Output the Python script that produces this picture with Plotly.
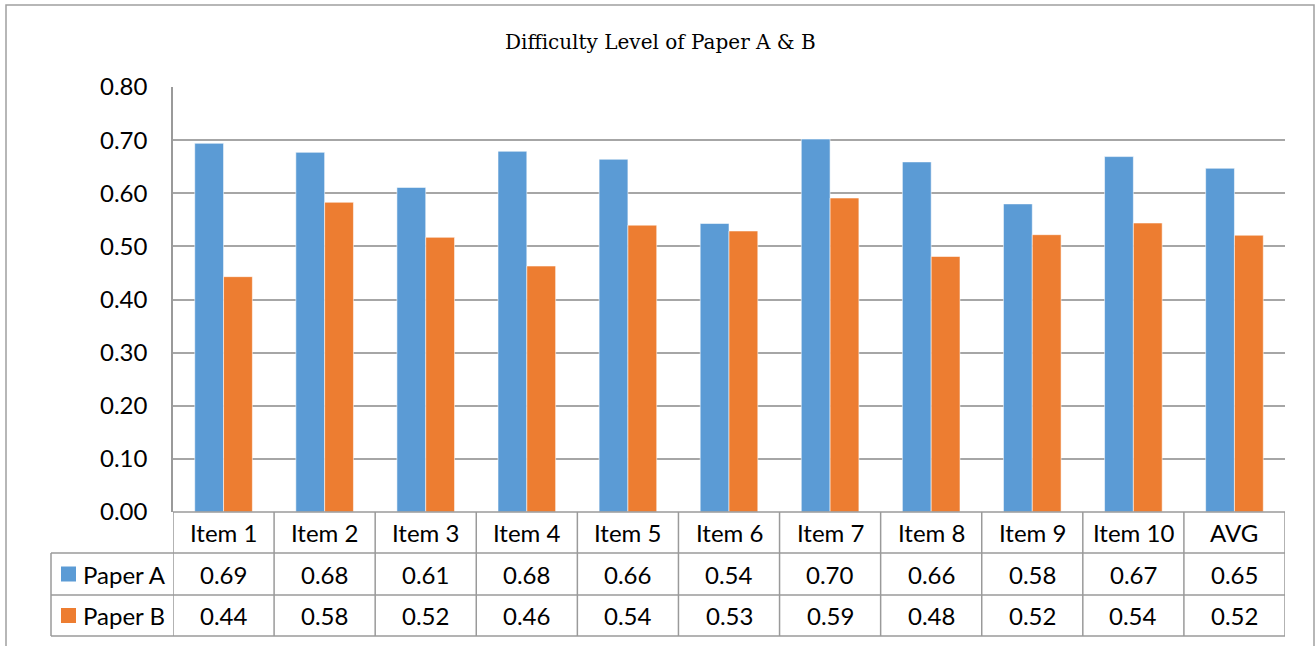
import plotly.graph_objects as go

# Difficulty index per item for the two papers
categories = ["Item 1", "Item 2", "Item 3", "Item 4", "Item 5", "Item 6",
              "Item 7", "Item 8", "Item 9", "Item 10", "AVG"]
paper_a = [0.694, 0.677, 0.611, 0.679, 0.664, 0.543, 0.702, 0.659, 0.580, 0.669, 0.647]
paper_b = [0.443, 0.583, 0.517, 0.463, 0.540, 0.529, 0.591, 0.481, 0.522, 0.544, 0.521]
series_names = ["Paper A", "Paper B"]
series_colors = ["#5B9BD5", "#ED7D31"]
y_ticks = [0.0, 0.1, 0.2, 0.3, 0.4, 0.5, 0.6, 0.7, 0.8]

W, H = 1316, 646


def px(x):
    return x / W


def py(y):
    return 1 - y / H


# pixel layout of the plot area and the data table beneath it
PLOT_L, PLOT_R, PLOT_T, PLOT_B = 173, 1285, 87, 512
ROW_EDGES = [512, 553, 595, 636]
LEGEND_L = 51
LINE = "#9a9a9a"
FONT = "Lato"
FSIZE = 24

fig = go.Figure()
for name, vals, color in zip(series_names, [paper_a, paper_b], series_colors):
    fig.add_trace(go.Bar(
        x=categories, y=vals, name=name,
        marker=dict(color=color, line=dict(color="rgba(255,255,255,0.55)", width=1)),
        showlegend=False,
    ))

shapes = []
annotations = []

# horizontal table rules
for i, yy in enumerate(ROW_EDGES):
    x0 = px(PLOT_L) if i == 0 else px(LEGEND_L)
    shapes.append(dict(type="line", xref="paper", yref="paper",
                       x0=x0, x1=px(PLOT_R), y0=py(yy), y1=py(yy),
                       line=dict(color=LINE, width=1.5)))
# vertical table rules at category boundaries
n = len(categories)
for k in range(n + 1):
    shapes.append(dict(type="line", xref="x", yref="paper",
                       x0=k - 0.5, x1=k - 0.5, y0=py(ROW_EDGES[0]), y1=py(ROW_EDGES[-1]),
                       line=dict(color=LINE, width=1.5)))
# left edge of the legend column
shapes.append(dict(type="line", xref="paper", yref="paper",
                   x0=px(LEGEND_L), x1=px(LEGEND_L), y0=py(ROW_EDGES[1]), y1=py(ROW_EDGES[-1]),
                   line=dict(color=LINE, width=1.5)))
# outer chart border
shapes.append(dict(type="rect", xref="paper", yref="paper",
                   x0=px(6), x1=px(1314), y0=py(5), y1=py(700),
                   line=dict(color="#a0a0a0", width=1.5), fillcolor="rgba(0,0,0,0)"))

# header row: category names
for c in categories:
    annotations.append(dict(x=c, xref="x", y=py((ROW_EDGES[0] + ROW_EDGES[1]) / 2), yref="paper",
                            text=c, showarrow=False, xanchor="center", yanchor="middle",
                            font=dict(family=FONT, size=FSIZE, color="#000000")))

# value rows with legend keys
for r, (name, vals, color) in enumerate(zip(series_names, [paper_a, paper_b], series_colors)):
    top, bot = ROW_EDGES[r + 1], ROW_EDGES[r + 2]
    mid = (top + bot) / 2
    shapes.append(dict(type="rect", xref="paper", yref="paper",
                       x0=px(61), x1=px(76), y0=py(mid - 7.5), y1=py(mid + 7.5),
                       line=dict(width=0), fillcolor=color))
    annotations.append(dict(x=px(81), xref="paper", y=py(mid), yref="paper",
                            text=name, showarrow=False, xanchor="left", yanchor="middle",
                            font=dict(family=FONT, size=FSIZE, color="#000000")))
    for c, v in zip(categories, vals):
        annotations.append(dict(x=c, xref="x", y=py(mid), yref="paper",
                                text=f"{v:.2f}", showarrow=False, xanchor="center", yanchor="middle",
                                font=dict(family=FONT, size=FSIZE, color="#000000")))

# chart title
annotations.append(dict(x=px(660), xref="paper", y=py(42), yref="paper",
                        text="Difficulty Level of Paper A & B", showarrow=False,
                        xanchor="center", yanchor="middle",
                        font=dict(family="DejaVu Serif", size=20, color="#000000")))

fig.update_layout(
    template="none",
    width=W, height=H,
    margin=dict(l=0, r=0, t=0, b=0, pad=0, autoexpand=False),
    paper_bgcolor="white", plot_bgcolor="white",
    barmode="group", bargap=0.43, bargroupgap=0,
    shapes=shapes, annotations=annotations,
    xaxis=dict(domain=[px(PLOT_L), px(PLOT_R)], range=[-0.5, n - 0.5],
               showticklabels=False, showgrid=False, zeroline=False, showline=False,
               ticks="", automargin=False, fixedrange=True),
    yaxis=dict(domain=[py(PLOT_B), py(PLOT_T)], range=[0, 0.8],
               tickvals=y_ticks, ticktext=[f"{t:.2f}" for t in y_ticks],
               showgrid=True, gridcolor="#a6a6a6", gridwidth=1.5,
               zeroline=False, showline=True, linecolor=LINE, linewidth=1.5,
               ticks="", ticklabelstandoff=19, automargin=False,
               tickfont=dict(family=FONT, size=FSIZE, color="#000000"),
               fixedrange=True),
)

fig.write_html("out.html")
